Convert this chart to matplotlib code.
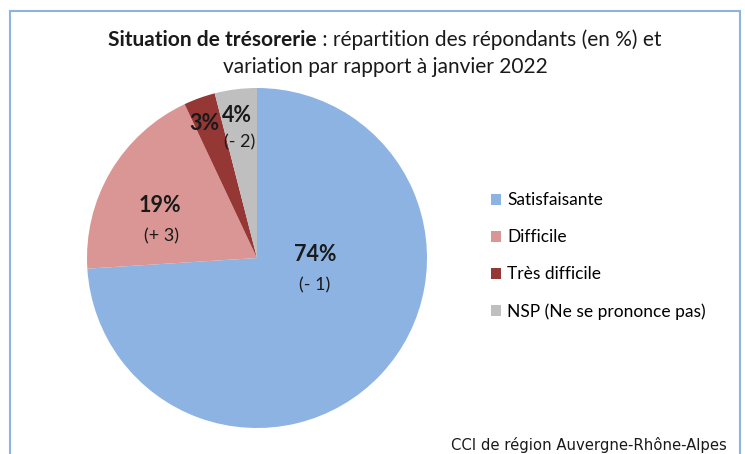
import matplotlib.pyplot as plt
from matplotlib.patches import Rectangle

plt.rcParams['font.family'] = ['Lato', 'DejaVu Sans']

# données
categories = ['Satisfaisante', 'Difficile', 'Très difficile', 'NSP (Ne se prononce pas)']
parts = [74, 19, 3, 4]
variations = ['(- 1)', '(+ 3)', '', '(- 2)']
colors = ['#8DB3E2', '#D99694', '#953735', '#BFBFBF']

# position des étiquettes (en rayon, centre du camembert = 0,0)
pct_pos = [(0.34, 0.02), (-0.57, 0.31), (-0.31, 0.79), (-0.12, 0.84)]
var_pos = [(0.34, -0.16), (-0.56, 0.13), None, (-0.10, 0.68)]

fig = plt.figure(figsize=(7.45, 4.54), dpi=100)
ax = fig.add_axes([87 / 745, 26 / 454, 340 / 745, 340 / 454])

wedges, _ = ax.pie(parts, colors=colors, startangle=90, counterclock=False,
                   wedgeprops={'linewidth': 0})
ax.set_xlim(-1, 1)
ax.set_ylim(-1, 1)
ax.set_aspect('equal')

for p, (x, y) in zip(parts, pct_pos):
    ax.text(x, y, f'{p}%', ha='center', va='center', fontsize=15.5,
            fontweight='bold', color='#1a1a1a')
for v, pos in zip(variations, var_pos):
    if pos:
        ax.text(pos[0], pos[1], v, ha='center', va='center', fontsize=13,
                color='#1a1a1a')

# légende
fig.legend(wedges, categories, loc='center left', bbox_to_anchor=(475 / 745, 1 - 256 / 454),
           frameon=False, fontsize=12.5, handlelength=0.6, handleheight=0.6,
           handletextpad=0.35, labelspacing=1.2)

# titre : partie en gras + partie normale
fig.canvas.draw()
r = fig.canvas.get_renderer()
t1 = fig.text(0, 1 - 40 / 454, 'Situation de trésorerie', fontsize=15,
              fontweight='bold', va='center', ha='left', color='#1a1a1a')
t2 = fig.text(0, 1 - 40 / 454, ' : répartition des répondants (en %) et', fontsize=15,
              va='center', ha='left', color='#1a1a1a')
w1 = t1.get_window_extent(r).width / fig.bbox.width
w2 = t2.get_window_extent(r).width / fig.bbox.width
x0 = 385 / 745 - (w1 + w2) / 2
t1.set_x(x0)
t2.set_x(x0 + w1)
fig.text(385 / 745, 1 - 67 / 454, 'variation par rapport à janvier 2022', fontsize=15,
         ha='center', va='center', color='#1a1a1a')

# source
fig.text(727 / 745, 1 - 445 / 454, 'CCI de région Auvergne-Rhône-Alpes', fontsize=10.7,
         family='DejaVu Sans', ha='right', va='center', color='#1a1a1a')

# cadre
fig.patches.append(Rectangle((10 / 745, -0.05), 730 / 745, 1.05 - 11 / 454,
                             transform=fig.transFigure, fill=False,
                             edgecolor='#8DB3E2', linewidth=1.5))

fig.savefig('out.png', dpi=100)
